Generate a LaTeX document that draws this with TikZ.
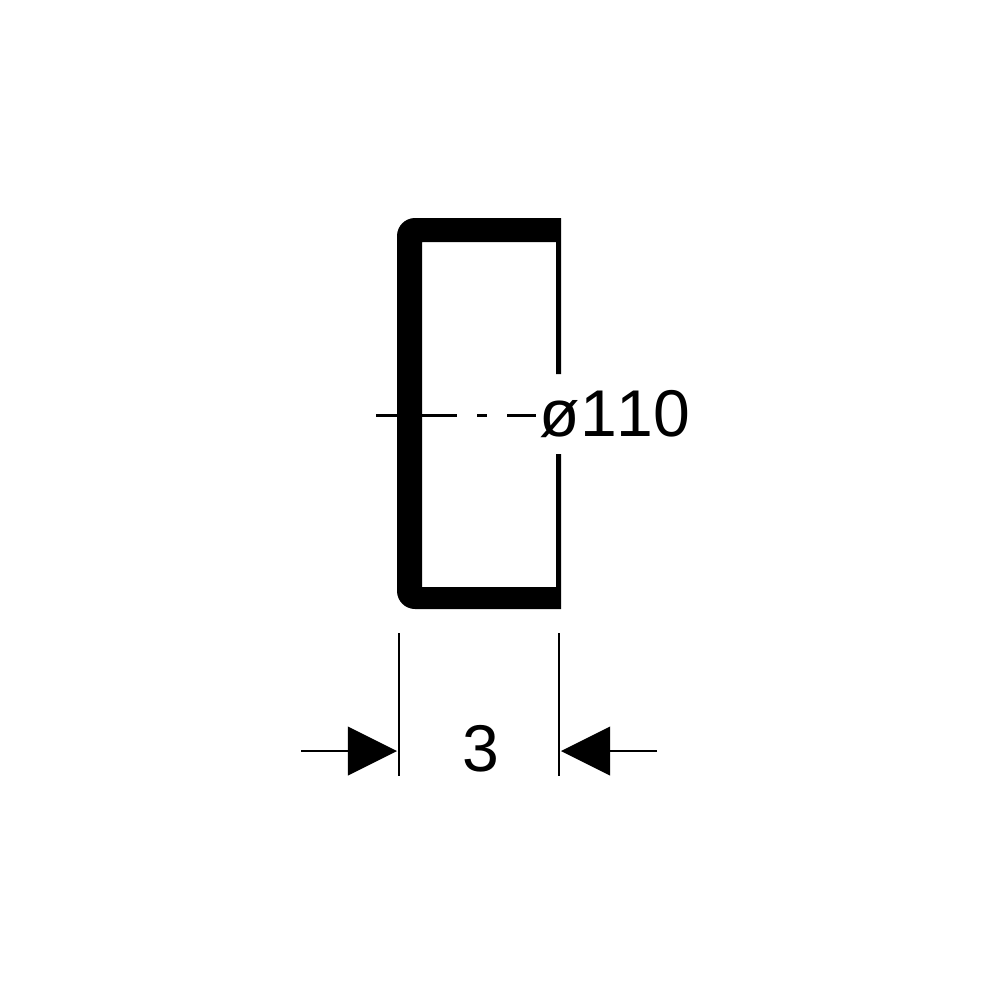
\documentclass[tikz,border=0pt]{standalone}
\usepackage{fontspec}
\setmainfont[Kerning=Off]{Liberation Sans}
\usetikzlibrary{arrows.meta}
\tikzstyle{profile}=[fill=black]
\tikzstyle{centre line}=[line width=0.85pt, dash pattern=on 0.81cm off 0.2cm on 0.1cm off 0.2cm]
\tikzstyle{extension}=[line width=0.7pt]
\tikzstyle{dimension}=[line width=0.7pt, shorten >=0.02cm, -{Triangle[length=0.49cm, width=0.49cm, line width=0pt]}]
\tikzstyle{label}=[font=\fontsize{18.8pt}{18.8pt}\selectfont, inner sep=0]

\begin{document}
\begin{tikzpicture}[x=0.01cm, y=-0.01cm]
          \useasboundingbox (0, 0) rectangle (1000, 1000);

          \fill[profile] (561, 218)
            [rounded corners=0.18cm] -- (397, 218)
            -- (397, 609)
            [sharp corners] -- (561, 609)
            -- (561, 454)
            -- (556, 454)
            -- (556, 587)
            -- (422, 587)
            -- (422, 242)
            -- (556, 242)
            -- (556, 374)
            -- (561, 374)
            -- cycle;

          \node[label, anchor=west] (diameter) at (539, 414) {ø110};
          \node[label] (width) at (481, 749) {3};

          \coordinate (centre_start) at (376, 415);
          \coordinate (centre_end) at (536, 415);
          \draw[centre line] (centre_start) -- (centre_end);

          \coordinate (ext_left_top) at (399, 633);
          \coordinate (ext_left_bottom) at (399, 776);
          \coordinate (ext_right_top) at (559, 633);
          \coordinate (ext_right_bottom) at (559, 776);
          \draw[extension] (ext_left_top) -- (ext_left_bottom);
          \draw[extension] (ext_right_top) -- (ext_right_bottom);

          \coordinate (arrow_left) at (301, 751);
          \coordinate (arrow_right) at (657, 751);
          \draw[dimension] (arrow_left) -- (ext_left_top |- arrow_left);
          \draw[dimension] (arrow_right) -- (ext_right_top |- arrow_right);
        \end{tikzpicture}
\end{document}
